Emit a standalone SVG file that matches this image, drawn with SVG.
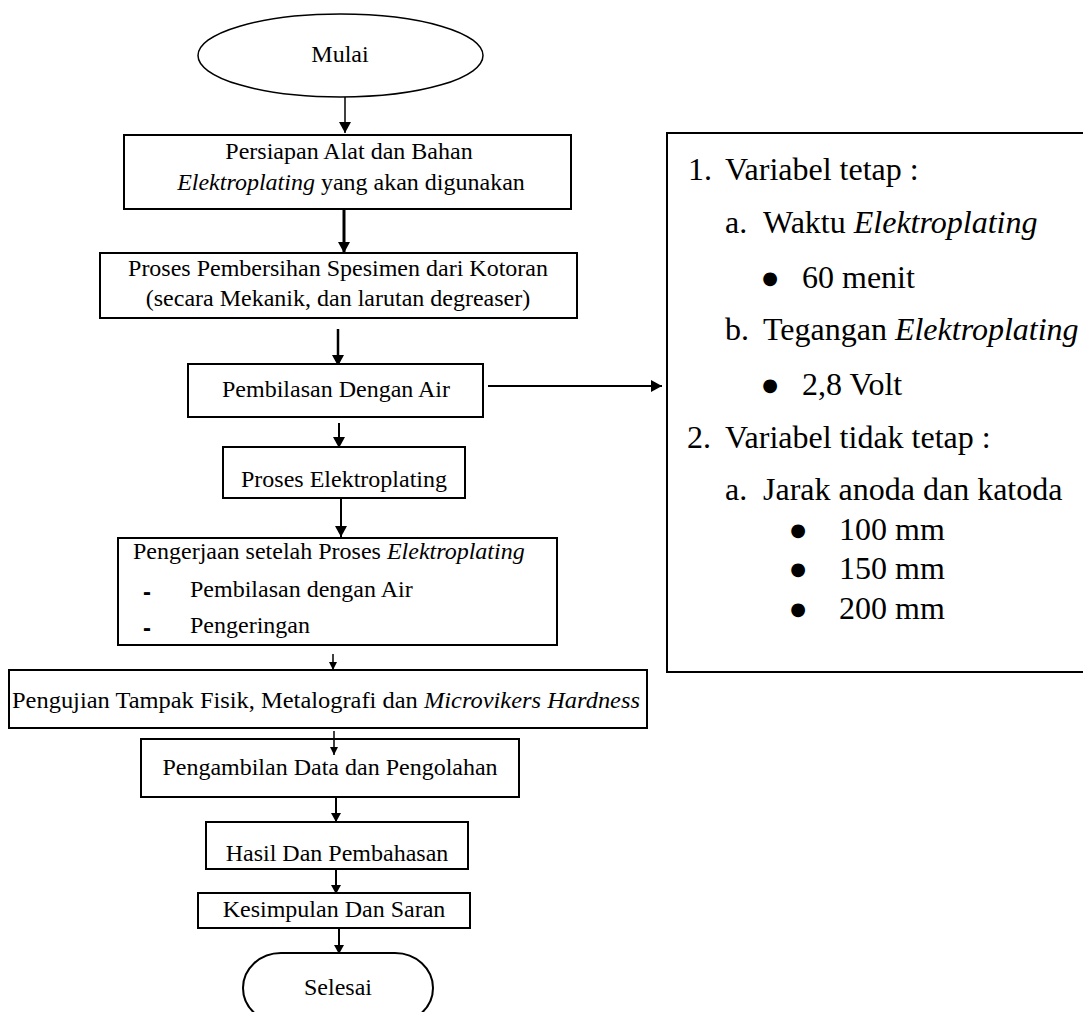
<svg xmlns="http://www.w3.org/2000/svg" width="1083" height="1012" viewBox="0 0 1083 1012">
<style>
  .bx { fill: #fff; stroke: #000; stroke-width: 2; }
  .t { font-family: "Liberation Serif", "Times New Roman", serif; font-size: 24px; fill: #000; }
  .c { text-anchor: middle; }
  .r { font-family: "Liberation Serif", "Times New Roman", serif; font-size: 32px; fill: #000; }
  .bul { font-family: "DejaVu Sans", sans-serif; font-size: 18px; fill: #000; text-anchor: middle; }
  .i { font-style: italic; }
  .ln { fill: none; stroke: #000; }
  .dash { font-family: "Liberation Sans", Arial, sans-serif; font-size: 24px; font-weight: bold; fill: #000; }
</style>
<defs>
  <marker id="big" markerUnits="userSpaceOnUse" markerWidth="11" markerHeight="12" refX="11" refY="6" orient="auto" viewBox="0 0 11 12">
    <path d="M0,0 L11,6 L0,12 z" fill="#000"/>
  </marker>
  <marker id="mid" markerUnits="userSpaceOnUse" markerWidth="9" markerHeight="10" refX="9" refY="5" orient="auto" viewBox="0 0 9 10">
    <path d="M0,0 L9,5 L0,10 z" fill="#000"/>
  </marker>
  <marker id="small" markerUnits="userSpaceOnUse" markerWidth="8" markerHeight="8" refX="8" refY="4" orient="auto" viewBox="0 0 8 8">
    <path d="M0,0 L8,4 L0,8 z" fill="#000"/>
  </marker>
</defs>
<rect width="1083" height="1012" fill="#fff"/>

<g id="connectors">
  <path class="ln" d="M345,97 V133" stroke-width="1.5" marker-end="url(#big)"/>
  <path class="ln" d="M344,209 V253" stroke-width="3" marker-end="url(#big)"/>
  <path class="ln" d="M338,329 V366" stroke-width="2.5" marker-end="url(#big)"/>
  <path class="ln" d="M488,386 H662" stroke-width="2" marker-end="url(#big)"/>
  <path class="ln" d="M339,423 V448" stroke-width="2" marker-end="url(#big)"/>
  <path class="ln" d="M341,498 V537" stroke-width="2" marker-end="url(#big)"/>
  <path class="ln" d="M333,654 V670" stroke-width="1.5" marker-end="url(#small)"/>
  <path class="ln" d="M334,731 V755" stroke-width="1.5" marker-end="url(#small)"/>
  <path class="ln" d="M336,797 V822" stroke-width="2" marker-end="url(#mid)"/>
  <path class="ln" d="M336,869 V894" stroke-width="2" marker-end="url(#mid)"/>
  <path class="ln" d="M339,928 V954" stroke-width="2" marker-end="url(#mid)"/>
</g>

<g id="mulai">
  <ellipse cx="340.5" cy="55.5" rx="142.5" ry="41.5" fill="#fff" stroke="#000" stroke-width="1.5"/>
  <text class="t c" x="340" y="62">Mulai</text>
</g>

<g id="persiapan">
  <rect class="bx" x="124" y="135" width="447" height="74"/>
  <text class="t c" x="349" y="159">Persiapan Alat dan Bahan</text>
  <text class="t c" x="351" y="190"><tspan class="i">Elektroplating</tspan> yang akan digunakan</text>
</g>

<g id="pembersihan">
  <rect class="bx" x="100" y="253" width="477" height="65"/>
  <text class="t c" x="338" y="276">Proses Pembersihan Spesimen dari Kotoran</text>
  <text class="t c" x="338" y="306">(secara Mekanik, dan larutan degreaser)</text>
</g>

<g id="pembilasan">
  <rect class="bx" x="188" y="364" width="295" height="53"/>
  <text class="t c" x="336" y="397">Pembilasan Dengan Air</text>
</g>

<g id="elektroplating">
  <rect class="bx" x="223" y="447" width="242" height="51"/>
  <text class="t c" x="344" y="487">Proses Elektroplating</text>
</g>

<g id="pengerjaan">
  <rect class="bx" x="118" y="538" width="439" height="107"/>
  <text class="t" x="133" y="559">Pengerjaan setelah Proses <tspan class="i">Elektroplating</tspan></text>
  <text class="dash" x="143" y="600">-</text>
  <text class="t" x="190" y="597">Pembilasan dengan Air</text>
  <text class="dash" x="143" y="636">-</text>
  <text class="t" x="190" y="633">Pengeringan</text>
</g>

<g id="pengujian">
  <rect class="bx" x="9" y="670" width="638" height="58" stroke-width="1.5"/>
  <text class="t c" x="326" y="708" textLength="628" lengthAdjust="spacingAndGlyphs">Pengujian Tampak Fisik, Metalografi dan <tspan class="i">Microvikers Hardness</tspan></text>
</g>

<g id="pengambilan">
  <rect class="bx" x="141" y="739" width="378" height="58" style="fill:none"/>
  <text class="t c" x="330" y="775">Pengambilan Data dan Pengolahan</text>
</g>

<g id="hasil">
  <rect class="bx" x="206" y="822" width="262" height="47"/>
  <text class="t c" x="337" y="861">Hasil Dan Pembahasan</text>
</g>

<g id="kesimpulan">
  <rect class="bx" x="198" y="893" width="272" height="35"/>
  <text class="t c" x="334" y="917">Kesimpulan Dan Saran</text>
</g>

<g id="selesai">
  <rect class="bx" x="243" y="953" width="190" height="70" rx="38" ry="38" stroke-width="1.5"/>
  <text class="t c" x="338" y="995">Selesai</text>
</g>

<g id="variabel">
  <path d="M1090,133 H667 V672 H1090" fill="#fff" stroke="#000" stroke-width="2"/>
  <text class="r" x="688" y="180">1.</text>
  <text class="r" x="725" y="180">Variabel tetap :</text>
  <text class="r" x="725" y="233">a.</text>
  <text class="r" x="763" y="233">Waktu <tspan class="i">Elektroplating</tspan></text>
  <text class="bul" x="770" y="284">●</text>
  <text class="r" x="802" y="288">60 menit</text>
  <text class="r" x="725" y="340">b.</text>
  <text class="r" x="763" y="340">Tegangan <tspan class="i">Elektroplating</tspan></text>
  <text class="bul" x="770" y="391">●</text>
  <text class="r" x="802" y="395">2,8 Volt</text>
  <text class="r" x="687" y="448">2.</text>
  <text class="r" x="725" y="448">Variabel tidak tetap :</text>
  <text class="r" x="725" y="500">a.</text>
  <text class="r" x="763" y="500">Jarak anoda dan katoda</text>
  <text class="bul" x="798" y="536">●</text>
  <text class="r" x="839" y="540">100 mm</text>
  <text class="bul" x="798" y="575">●</text>
  <text class="r" x="839" y="579">150 mm</text>
  <text class="bul" x="798" y="615">●</text>
  <text class="r" x="839" y="619">200 mm</text>
</g>
</svg>
